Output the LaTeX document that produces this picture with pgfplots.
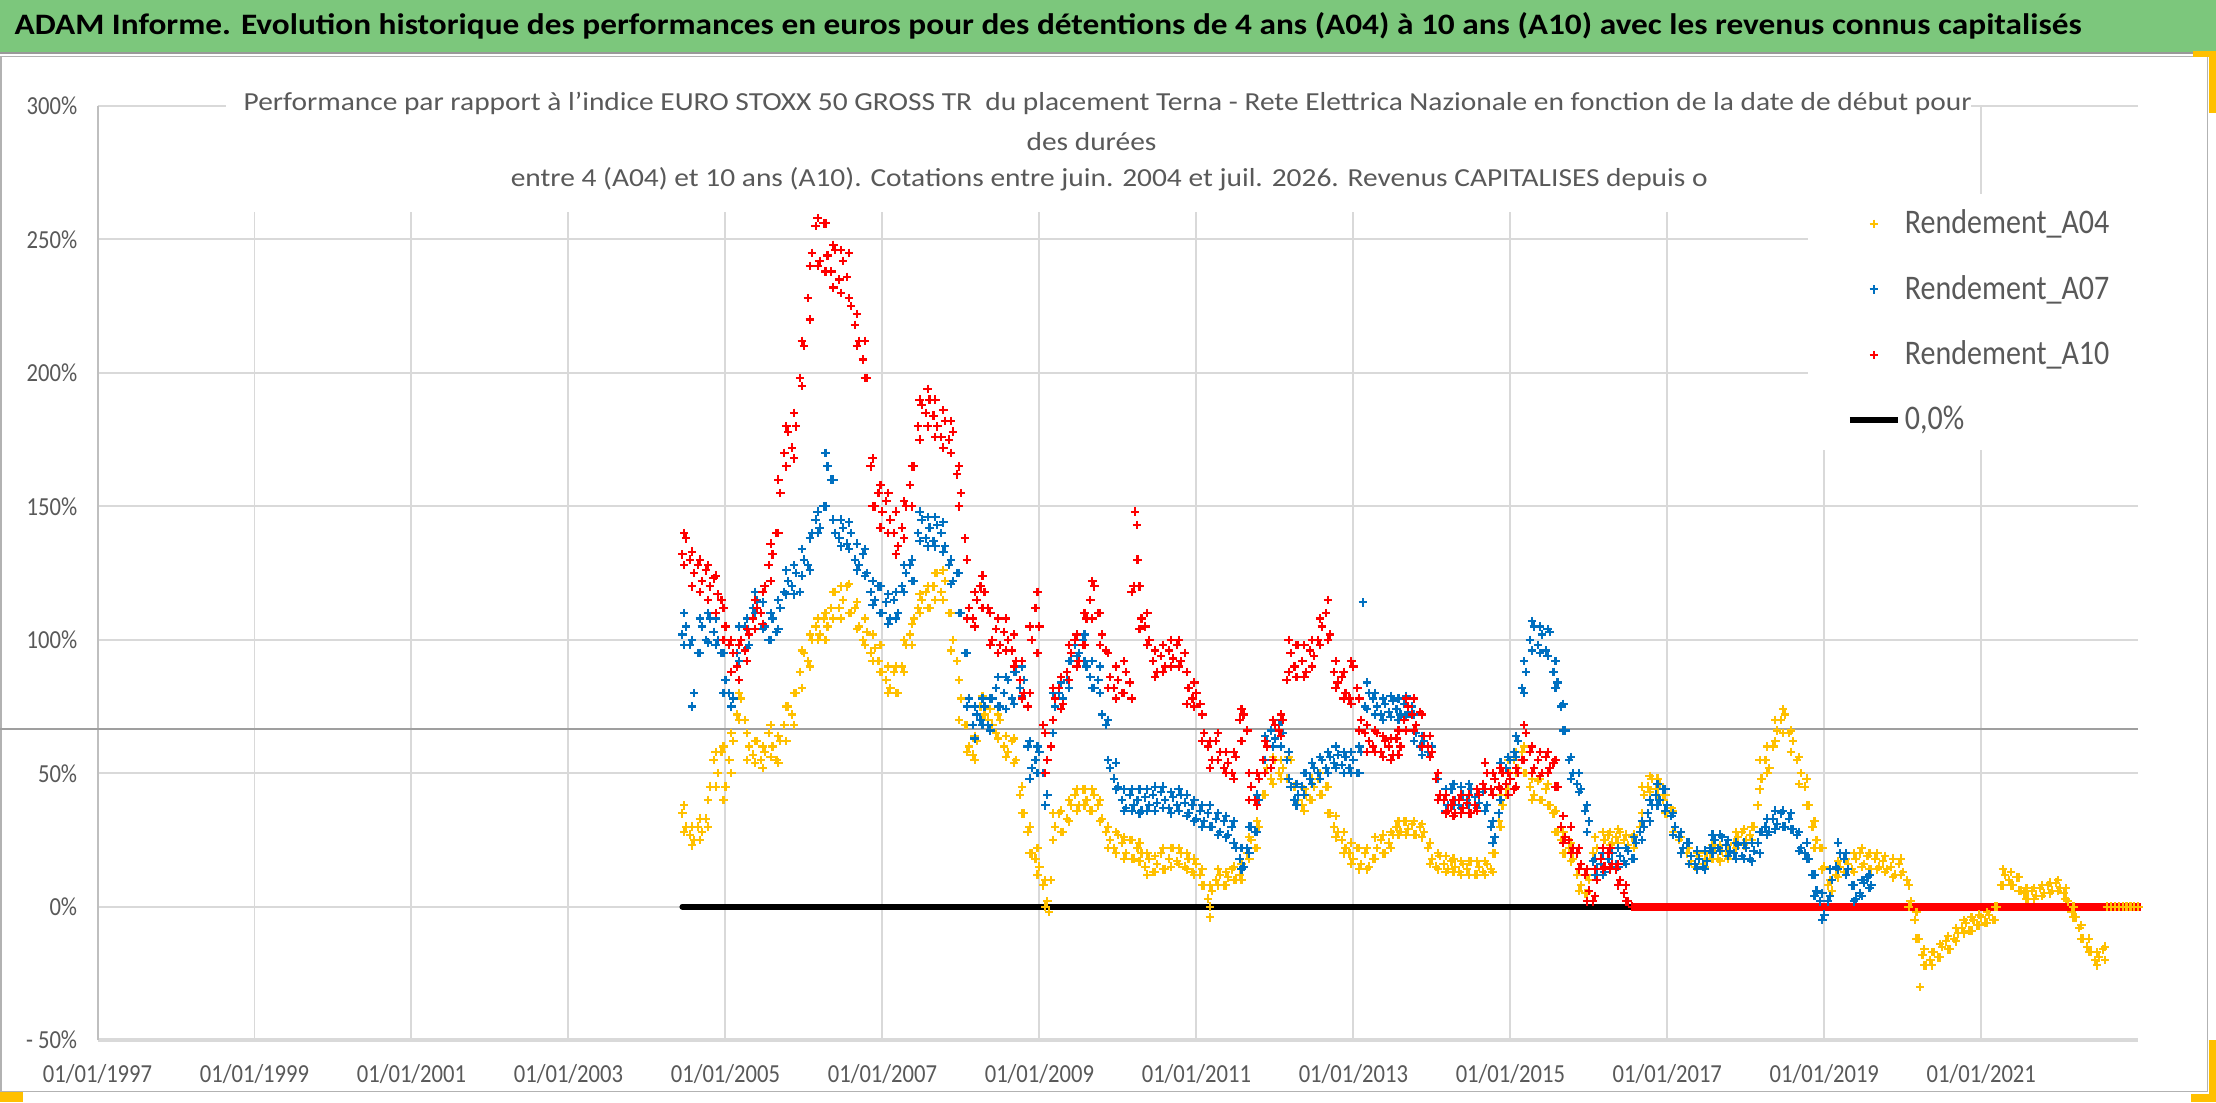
\documentclass[border=0pt]{standalone}
\usepackage{pgfplots}
\pgfplotsset{compat=1.18}
\usepackage{pgfplotstable}
\usepackage{fontspec}
\setmainfont[FakeStretch=0.87]{Carlito}
\definecolor{ttl}{RGB}{89,89,89}
\definecolor{grd}{RGB}{217,217,217}
\definecolor{grn}{RGB}{124,199,124}
\definecolor{yel}{RGB}{255,192,0}
\definecolor{blu}{RGB}{0,112,192}
\definecolor{rd}{RGB}{255,0,0}

\pgfplotstableread[row sep=\\]{x y\\
2004.45 35\\ 2004.50 30\\ 2004.55 27\\ 2004.60 25\\ 2004.65 30\\ 2004.70 28\\ 2004.75 33\\ 2004.80 45\\ 2004.85 55\\ 2004.90 50\\ 2004.95 58\\
2005.00 45\\ 2005.05 55\\ 2005.10 62\\ 2005.15 72\\ 2005.20 78\\ 2005.25 70\\ 2005.30 60\\ 2005.35 57\\ 2005.40 62\\ 2005.45 55\\ 2005.50 58\\ 2005.55 65\\ 2005.60 60\\ 2005.65 55\\ 2005.70 62\\ 2005.75 68\\ 2005.80 75\\ 2005.85 72\\ 2005.90 80\\ 2005.95 88\\
2006.00 95\\ 2006.05 92\\ 2006.10 100\\ 2006.15 105\\ 2006.20 102\\ 2006.25 108\\ 2006.30 105\\ 2006.35 112\\ 2006.40 118\\ 2006.45 112\\ 2006.50 115\\ 2006.55 120\\ 2006.60 110\\ 2006.65 112\\ 2006.70 105\\ 2006.75 100\\ 2006.80 103\\ 2006.85 95\\ 2006.90 97\\ 2006.95 92\\
2007.00 88\\ 2007.05 85\\ 2007.10 82\\ 2007.15 88\\ 2007.20 80\\ 2007.25 90\\ 2007.30 98\\ 2007.35 102\\ 2007.40 108\\ 2007.45 112\\ 2007.50 115\\ 2007.55 118\\ 2007.60 112\\ 2007.65 120\\ 2007.70 125\\ 2007.75 118\\ 2007.80 122\\ 2007.85 110\\ 2007.90 100\\ 2007.95 92\\
2008.00 78\\ 2008.05 68\\ 2008.10 60\\ 2008.15 57\\ 2008.20 62\\ 2008.25 75\\ 2008.30 72\\ 2008.35 70\\ 2008.40 68\\ 2008.45 65\\ 2008.50 70\\ 2008.55 60\\ 2008.60 58\\ 2008.65 62\\ 2008.70 55\\ 2008.75 42\\ 2008.80 35\\ 2008.85 28\\ 2008.90 20\\ 2008.95 18\\
2009.00 15\\ 2009.05 8\\ 2009.10 2\\ 2009.12 -2\\ 2009.15 10\\ 2009.20 30\\ 2009.25 35\\ 2009.30 28\\ 2009.35 33\\ 2009.40 38\\ 2009.45 42\\ 2009.50 38\\ 2009.55 44\\ 2009.60 40\\ 2009.65 36\\ 2009.70 42\\ 2009.75 38\\ 2009.80 33\\ 2009.85 28\\ 2009.90 25\\ 2009.95 22\\
2010.00 27\\ 2010.05 24\\ 2010.10 20\\ 2010.15 25\\ 2010.20 18\\ 2010.25 22\\ 2010.30 20\\ 2010.35 15\\ 2010.40 18\\ 2010.45 13\\ 2010.50 16\\ 2010.55 20\\ 2010.60 14\\ 2010.65 18\\ 2010.70 22\\ 2010.75 17\\ 2010.80 20\\ 2010.85 15\\ 2010.90 18\\ 2010.95 13\\
2011.00 16\\ 2011.05 12\\ 2011.10 8\\ 2011.15 3\\ 2011.17 -4\\ 2011.20 6\\ 2011.25 10\\ 2011.30 12\\ 2011.35 8\\ 2011.40 11\\ 2011.45 14\\ 2011.50 10\\ 2011.55 12\\ 2011.60 15\\ 2011.65 20\\ 2011.70 25\\ 2011.75 22\\ 2011.80 30\\ 2011.85 42\\ 2011.90 52\\ 2011.95 48\\
2012.00 55\\ 2012.05 50\\ 2012.10 52\\ 2012.15 48\\ 2012.20 55\\ 2012.25 45\\ 2012.30 40\\ 2012.35 38\\ 2012.40 42\\ 2012.45 40\\ 2012.50 45\\ 2012.55 48\\ 2012.60 42\\ 2012.65 45\\ 2012.70 35\\ 2012.75 30\\ 2012.80 28\\ 2012.85 25\\ 2012.90 22\\ 2012.95 20\\
2013.00 18\\ 2013.05 22\\ 2013.10 16\\ 2013.15 20\\ 2013.20 15\\ 2013.25 18\\ 2013.30 22\\ 2013.35 25\\ 2013.40 20\\ 2013.45 24\\ 2013.50 27\\ 2013.55 30\\ 2013.60 28\\ 2013.65 32\\ 2013.70 29\\ 2013.75 31\\ 2013.80 27\\ 2013.85 30\\ 2013.90 28\\ 2013.95 22\\
2014.00 18\\ 2014.05 15\\ 2014.10 19\\ 2014.15 16\\ 2014.20 14\\ 2014.25 17\\ 2014.30 15\\ 2014.35 13\\ 2014.40 16\\ 2014.45 14\\ 2014.50 17\\ 2014.55 12\\ 2014.60 15\\ 2014.65 13\\ 2014.70 16\\ 2014.75 14\\ 2014.80 20\\ 2014.85 32\\ 2014.90 38\\ 2014.95 42\\
2015.00 50\\ 2015.05 55\\ 2015.10 52\\ 2015.15 58\\ 2015.20 50\\ 2015.25 45\\ 2015.30 42\\ 2015.35 47\\ 2015.40 40\\ 2015.45 44\\ 2015.50 38\\ 2015.55 35\\ 2015.60 28\\ 2015.65 25\\ 2015.70 20\\ 2015.75 22\\ 2015.80 18\\ 2015.85 12\\ 2015.90 8\\ 2015.95 5\\
2016.00 10\\ 2016.05 20\\ 2016.10 22\\ 2016.15 18\\ 2016.20 25\\ 2016.25 27\\ 2016.30 24\\ 2016.35 26\\ 2016.40 28\\ 2016.45 25\\ 2016.50 23\\ 2016.55 26\\ 2016.60 24\\ 2016.65 30\\ 2016.70 42\\ 2016.75 45\\ 2016.80 48\\ 2016.85 44\\ 2016.90 46\\ 2016.95 40\\
2017.00 35\\ 2017.05 37\\ 2017.10 30\\ 2017.15 25\\ 2017.20 22\\ 2017.25 20\\ 2017.30 17\\ 2017.35 15\\ 2017.40 19\\ 2017.45 16\\ 2017.50 18\\ 2017.55 20\\ 2017.60 22\\ 2017.65 18\\ 2017.70 21\\ 2017.75 19\\ 2017.80 20\\ 2017.85 24\\ 2017.90 26\\ 2017.95 28\\
2018.00 25\\ 2018.05 27\\ 2018.10 30\\ 2018.15 38\\ 2018.20 48\\ 2018.25 55\\ 2018.30 52\\ 2018.35 60\\ 2018.40 66\\ 2018.45 70\\ 2018.50 72\\ 2018.55 65\\ 2018.60 62\\ 2018.65 55\\ 2018.70 50\\ 2018.75 45\\ 2018.80 38\\ 2018.85 30\\ 2018.90 25\\ 2018.95 22\\
2019.00 15\\ 2019.05 8\\ 2019.10 6\\ 2019.15 12\\ 2019.20 15\\ 2019.25 13\\ 2019.30 16\\ 2019.35 14\\ 2019.40 18\\ 2019.45 20\\ 2019.50 16\\ 2019.55 19\\ 2019.60 14\\ 2019.65 18\\ 2019.70 15\\ 2019.75 17\\ 2019.80 14\\ 2019.85 15\\ 2019.90 12\\ 2019.95 16\\
2020.00 13\\ 2020.05 10\\ 2020.10 2\\ 2020.15 -5\\ 2020.20 -12\\ 2020.22 -30\\ 2020.25 -18\\ 2020.30 -22\\ 2020.35 -20\\ 2020.40 -17\\ 2020.45 -19\\ 2020.50 -15\\ 2020.55 -13\\ 2020.60 -16\\ 2020.65 -12\\ 2020.70 -10\\ 2020.75 -8\\ 2020.80 -6\\ 2020.85 -9\\ 2020.90 -5\\ 2020.95 -7\\
2021.00 -4\\ 2021.05 -6\\ 2021.10 -3\\ 2021.15 -5\\ 2021.20 0\\ 2021.25 8\\ 2021.30 12\\ 2021.35 10\\ 2021.40 8\\ 2021.45 11\\ 2021.50 6\\ 2021.55 5\\ 2021.60 3\\ 2021.65 6\\ 2021.70 4\\ 2021.75 7\\ 2021.80 5\\ 2021.85 8\\ 2021.90 6\\ 2021.95 9\\
2022.00 7\\ 2022.05 5\\ 2022.10 2\\ 2022.15 -2\\ 2022.20 -4\\ 2022.25 -8\\ 2022.30 -12\\ 2022.35 -15\\ 2022.40 -17\\ 2022.45 -20\\ 2022.50 -19\\ 2022.55 -16\\ 2022.60 0\\ 2022.65 0\\ 2022.70 0\\ 2022.75 0\\ 2022.80 0\\ 2022.85 0\\ 2022.90 0\\ 2022.95 0\\ 2023.00 0\\
}\Afour

\pgfplotstableread[row sep=\\]{x lo hi\\
2004.475 28 38\\ 2004.575 23 30\\ 2004.675 25 33\\ 2004.775 30 40\\ 2004.875 45 58\\ 2004.975 40 60\\ 2005.075 50 65\\ 2005.175 70 80\\ 2005.275 55 65\\ 2005.375 54 62\\
2005.475 52 60\\ 2005.575 56 68\\ 2005.675 54 64\\ 2005.775 62 75\\ 2005.875 68 80\\ 2005.975 82 96\\ 2006.075 90 102\\ 2006.175 100 108\\ 2006.275 100 110\\ 2006.375 108 118\\
2006.475 108 120\\ 2006.575 110 121\\ 2006.675 104 114\\ 2006.775 98 108\\ 2006.875 92 102\\ 2006.975 88 98\\ 2007.075 80 90\\ 2007.175 80 90\\ 2007.275 88 100\\ 2007.375 98 106\\
2007.475 110 117\\ 2007.575 112 120\\ 2007.675 115 125\\ 2007.775 115 126\\ 2007.875 96 110\\ 2007.975 70 85\\ 2008.075 58 68\\ 2008.175 55 64\\ 2008.275 70 79\\ 2008.375 66 74\\
2008.475 63 72\\ 2008.575 56 64\\ 2008.675 54 63\\ 2008.775 35 45\\ 2008.875 20 30\\ 2008.975 12 22\\ 2009.075 0 10\\ 2009.175 25 35\\ 2009.275 28 36\\ 2009.375 32 40\\
2009.475 36 44\\ 2009.575 38 44\\ 2009.675 36 44\\ 2009.775 32 40\\ 2009.875 22 30\\ 2009.975 20 28\\ 2010.075 18 26\\ 2010.175 18 25\\ 2010.275 17 24\\ 2010.375 12 20\\
2010.475 13 19\\ 2010.575 14 22\\ 2010.675 15 22\\ 2010.775 16 22\\ 2010.875 14 20\\ 2010.975 12 18\\ 2011.075 8 14\\ 2011.175 0 8\\ 2011.275 8 14\\ 2011.375 8 13\\
2011.475 10 15\\ 2011.575 10 16\\ 2011.675 18 26\\ 2011.775 22 32\\ 2011.875 42 55\\ 2011.975 46 56\\ 2012.075 48 55\\ 2012.175 48 56\\ 2012.275 38 46\\ 2012.375 36 44\\
2012.475 40 48\\ 2012.575 42 50\\ 2012.675 35 45\\ 2012.775 26 34\\ 2012.875 20 28\\ 2012.975 16 24\\ 2013.075 14 22\\ 2013.175 14 22\\ 2013.275 18 26\\ 2013.375 20 27\\
2013.475 22 28\\ 2013.575 27 32\\ 2013.675 27 32\\ 2013.775 27 32\\ 2013.875 26 31\\ 2013.975 16 24\\ 2014.075 14 20\\ 2014.175 13 19\\ 2014.275 13 18\\ 2014.375 12 17\\
2014.475 12 17\\ 2014.575 12 17\\ 2014.675 12 17\\ 2014.775 13 20\\ 2014.875 30 42\\ 2014.975 44 55\\ 2015.075 50 58\\ 2015.175 50 60\\ 2015.275 40 48\\ 2015.375 40 48\\
2015.475 38 46\\ 2015.575 28 36\\ 2015.675 20 28\\ 2015.775 17 24\\ 2015.875 6 14\\ 2015.975 5 12\\ 2016.075 18 26\\ 2016.175 20 28\\ 2016.275 23 28\\ 2016.375 24 29\\
2016.475 22 27\\ 2016.575 22 27\\ 2016.675 35 45\\ 2016.775 43 49\\ 2016.875 42 48\\ 2016.975 35 42\\ 2017.075 28 36\\ 2017.175 20 26\\ 2017.275 16 22\\ 2017.375 14 20\\
2017.475 15 20\\ 2017.575 18 23\\ 2017.675 17 23\\ 2017.775 18 23\\ 2017.875 22 28\\ 2017.975 23 29\\ 2018.075 25 30\\ 2018.175 44 55\\ 2018.275 50 60\\ 2018.375 62 70\\
2018.475 65 74\\ 2018.575 58 66\\ 2018.675 46 56\\ 2018.775 38 48\\ 2018.875 22 32\\ 2018.975 14 22\\ 2019.075 4 10\\ 2019.175 11 17\\ 2019.275 12 18\\ 2019.375 13 20\\
2019.475 15 22\\ 2019.575 14 20\\ 2019.675 14 20\\ 2019.775 13 19\\ 2019.875 11 18\\ 2019.975 12 18\\ 2020.075 0 8\\ 2020.175 -12 -2\\ 2020.275 -22 -16\\ 2020.375 -22 -17\\
2020.475 -19 -14\\ 2020.575 -16 -11\\ 2020.675 -13 -8\\ 2020.775 -10 -5\\ 2020.875 -9 -4\\ 2020.975 -7 -3\\ 2021.075 -6 -2\\ 2021.175 -5 0\\ 2021.275 8 14\\ 2021.375 8 13\\
2021.475 6 11\\ 2021.575 3 7\\ 2021.675 3 7\\ 2021.775 4 8\\ 2021.875 5 9\\ 2021.975 6 10\\ 2022.075 3 7\\ 2022.175 -4 0\\ 2022.275 -12 -7\\ 2022.375 -17 -12\\
2022.475 -22 -17\\ 2022.575 -20 -15\\
}\Afourenv

\pgfplotstableread[row sep=\\]{x y\\
2004.45 102\\ 2004.50 105\\ 2004.55 98\\ 2004.60 80\\ 2004.65 95\\ 2004.70 105\\ 2004.75 100\\ 2004.80 108\\ 2004.85 103\\ 2004.90 100\\ 2004.95 95\\
2005.00 85\\ 2005.05 80\\ 2005.10 78\\ 2005.15 95\\ 2005.20 100\\ 2005.25 105\\ 2005.30 98\\ 2005.35 112\\ 2005.40 115\\ 2005.45 110\\ 2005.50 105\\ 2005.55 100\\ 2005.60 108\\ 2005.65 103\\ 2005.70 112\\ 2005.75 118\\ 2005.80 122\\ 2005.85 120\\ 2005.90 125\\ 2005.95 118\\
2006.00 130\\ 2006.05 128\\ 2006.10 140\\ 2006.15 145\\ 2006.20 142\\ 2006.25 150\\ 2006.30 165\\ 2006.35 160\\ 2006.40 140\\ 2006.45 138\\ 2006.50 142\\ 2006.55 136\\ 2006.60 140\\ 2006.65 130\\ 2006.70 128\\ 2006.75 132\\ 2006.80 125\\ 2006.85 118\\ 2006.90 115\\ 2006.95 120\\
2007.00 110\\ 2007.05 114\\ 2007.10 108\\ 2007.15 115\\ 2007.20 110\\ 2007.25 120\\ 2007.30 125\\ 2007.35 128\\ 2007.40 122\\ 2007.45 140\\ 2007.50 145\\ 2007.55 138\\ 2007.60 142\\ 2007.65 137\\ 2007.70 143\\ 2007.75 140\\ 2007.80 135\\ 2007.85 128\\ 2007.90 122\\ 2007.95 125\\
2008.00 110\\ 2008.05 95\\ 2008.10 78\\ 2008.15 68\\ 2008.20 72\\ 2008.25 70\\ 2008.30 75\\ 2008.35 68\\ 2008.40 78\\ 2008.45 82\\ 2008.50 75\\ 2008.55 80\\ 2008.60 85\\ 2008.65 78\\ 2008.70 88\\ 2008.75 82\\ 2008.80 85\\ 2008.85 60\\ 2008.90 52\\ 2008.95 55\\
2009.00 58\\ 2009.05 50\\ 2009.10 42\\ 2009.15 60\\ 2009.20 75\\ 2009.25 80\\ 2009.30 78\\ 2009.35 85\\ 2009.40 92\\ 2009.45 98\\ 2009.50 95\\ 2009.55 100\\ 2009.60 90\\ 2009.65 86\\ 2009.70 82\\ 2009.75 85\\ 2009.80 72\\ 2009.85 68\\ 2009.90 52\\ 2009.95 48\\
2010.00 45\\ 2010.05 40\\ 2010.10 37\\ 2010.15 42\\ 2010.20 38\\ 2010.25 40\\ 2010.30 36\\ 2010.35 41\\ 2010.40 38\\ 2010.45 42\\ 2010.50 39\\ 2010.55 43\\ 2010.60 40\\ 2010.65 37\\ 2010.70 41\\ 2010.75 38\\ 2010.80 42\\ 2010.85 39\\ 2010.90 35\\ 2010.95 38\\
2011.00 33\\ 2011.05 36\\ 2011.10 32\\ 2011.15 35\\ 2011.20 30\\ 2011.25 33\\ 2011.30 28\\ 2011.35 32\\ 2011.40 27\\ 2011.45 30\\ 2011.50 22\\ 2011.55 18\\ 2011.60 15\\ 2011.65 22\\ 2011.70 30\\ 2011.75 28\\ 2011.80 40\\ 2011.85 55\\ 2011.90 62\\ 2011.95 66\\
2012.00 63\\ 2012.05 68\\ 2012.10 65\\ 2012.15 55\\ 2012.20 45\\ 2012.25 40\\ 2012.30 42\\ 2012.35 45\\ 2012.40 50\\ 2012.45 48\\ 2012.50 52\\ 2012.55 50\\ 2012.60 55\\ 2012.65 52\\ 2012.70 56\\ 2012.75 54\\ 2012.80 57\\ 2012.85 53\\ 2012.90 56\\ 2012.95 52\\
2013.00 55\\ 2013.05 50\\ 2013.10 58\\ 2013.12 114\\ 2013.15 75\\ 2013.20 80\\ 2013.25 78\\ 2013.30 75\\ 2013.35 72\\ 2013.40 76\\ 2013.45 73\\ 2013.50 77\\ 2013.55 74\\ 2013.60 72\\ 2013.65 76\\ 2013.70 73\\ 2013.75 75\\ 2013.80 65\\ 2013.85 60\\ 2013.90 62\\ 2013.95 58\\
2014.00 60\\ 2014.05 48\\ 2014.10 42\\ 2014.15 40\\ 2014.20 38\\ 2014.25 44\\ 2014.30 40\\ 2014.35 38\\ 2014.40 42\\ 2014.45 40\\ 2014.50 44\\ 2014.55 41\\ 2014.60 39\\ 2014.65 43\\ 2014.70 38\\ 2014.75 30\\ 2014.80 26\\ 2014.85 35\\ 2014.90 50\\ 2014.95 52\\
2015.00 55\\ 2015.05 58\\ 2015.10 62\\ 2015.15 82\\ 2015.20 88\\ 2015.25 100\\ 2015.30 105\\ 2015.35 98\\ 2015.40 102\\ 2015.45 96\\ 2015.50 103\\ 2015.55 88\\ 2015.60 84\\ 2015.65 75\\ 2015.70 66\\ 2015.75 55\\ 2015.80 50\\ 2015.85 46\\ 2015.90 44\\ 2015.95 36\\
2016.00 32\\ 2016.05 17\\ 2016.10 14\\ 2016.15 16\\ 2016.20 13\\ 2016.25 18\\ 2016.30 20\\ 2016.35 16\\ 2016.40 19\\ 2016.45 17\\ 2016.50 21\\ 2016.55 18\\ 2016.60 24\\ 2016.65 28\\ 2016.70 30\\ 2016.75 35\\ 2016.80 38\\ 2016.85 42\\ 2016.90 40\\ 2016.95 44\\
2017.00 38\\ 2017.05 34\\ 2017.10 30\\ 2017.15 26\\ 2017.20 22\\ 2017.25 24\\ 2017.30 19\\ 2017.35 16\\ 2017.40 18\\ 2017.45 15\\ 2017.50 17\\ 2017.55 22\\ 2017.60 25\\ 2017.65 22\\ 2017.70 26\\ 2017.75 23\\ 2017.80 21\\ 2017.85 20\\ 2017.90 23\\ 2017.95 19\\
2018.00 22\\ 2018.05 18\\ 2018.10 21\\ 2018.15 24\\ 2018.20 28\\ 2018.25 30\\ 2018.30 28\\ 2018.35 33\\ 2018.40 31\\ 2018.45 35\\ 2018.50 30\\ 2018.55 33\\ 2018.60 29\\ 2018.65 27\\ 2018.70 22\\ 2018.75 20\\ 2018.80 18\\ 2018.85 12\\ 2018.90 6\\ 2018.95 2\\
2019.00 -3\\ 2019.05 2\\ 2019.10 10\\ 2019.15 15\\ 2019.20 20\\ 2019.25 18\\ 2019.30 14\\ 2019.35 8\\ 2019.40 3\\ 2019.45 5\\ 2019.50 9\\ 2019.55 11\\ 2019.60 8\\
}\Aseven

\pgfplotstableread[row sep=\\]{x lo hi\\
2004.475 98 110\\ 2004.575 75 100\\ 2004.675 95 108\\ 2004.775 99 110\\ 2004.875 98 108\\ 2004.975 80 95\\ 2005.075 75 88\\ 2005.175 92 105\\ 2005.275 97 108\\ 2005.375 110 118\\
2005.475 104 114\\ 2005.575 100 110\\ 2005.675 104 115\\ 2005.775 117 126\\ 2005.875 117 128\\ 2005.975 124 134\\ 2006.075 126 138\\ 2006.175 140 148\\ 2006.275 150 170\\ 2006.375 145 160\\
2006.475 135 145\\ 2006.575 134 144\\ 2006.675 126 136\\ 2006.775 124 134\\ 2006.875 113 122\\ 2006.975 110 120\\ 2007.075 106 117\\ 2007.175 108 118\\ 2007.275 118 128\\ 2007.375 122 130\\
2007.475 137 148\\ 2007.575 135 146\\ 2007.675 135 146\\ 2007.775 133 144\\ 2007.875 121 130\\ 2007.975 110 125\\ 2008.075 75 95\\ 2008.175 63 75\\ 2008.275 68 78\\ 2008.375 66 78\\
2008.475 75 86\\ 2008.575 74 86\\ 2008.675 76 88\\ 2008.775 79 90\\ 2008.875 48 62\\ 2008.975 50 60\\ 2009.075 38 50\\ 2009.175 65 80\\ 2009.275 74 84\\ 2009.375 82 92\\
2009.475 94 102\\ 2009.575 92 102\\ 2009.675 82 92\\ 2009.775 80 90\\ 2009.875 55 70\\ 2009.975 44 54\\ 2010.075 36 44\\ 2010.175 36 44\\ 2010.275 35 44\\ 2010.375 36 44\\
2010.475 36 45\\ 2010.575 37 45\\ 2010.675 35 43\\ 2010.775 36 44\\ 2010.875 34 42\\ 2010.975 32 40\\ 2011.075 30 38\\ 2011.175 30 38\\ 2011.275 27 35\\ 2011.375 26 34\\
2011.475 24 32\\ 2011.575 14 22\\ 2011.675 20 30\\ 2011.775 28 42\\ 2011.875 55 64\\ 2011.975 60 70\\ 2012.075 60 70\\ 2012.175 48 58\\ 2012.275 38 46\\ 2012.375 42 50\\
2012.475 46 54\\ 2012.575 48 56\\ 2012.675 50 58\\ 2012.775 52 60\\ 2012.875 50 58\\ 2012.975 50 58\\ 2013.075 50 60\\ 2013.175 74 84\\ 2013.275 72 80\\ 2013.375 70 78\\
2013.475 71 79\\ 2013.575 70 78\\ 2013.675 71 79\\ 2013.775 62 72\\ 2013.875 57 64\\ 2013.975 56 64\\ 2014.075 40 48\\ 2014.175 36 44\\ 2014.275 38 46\\ 2014.375 37 45\\
2014.475 38 46\\ 2014.575 37 44\\ 2014.675 36 44\\ 2014.775 24 32\\ 2014.875 40 54\\ 2014.975 50 56\\ 2015.075 56 64\\ 2015.175 80 92\\ 2015.275 96 107\\ 2015.375 95 105\\
2015.475 94 104\\ 2015.575 82 92\\ 2015.675 66 76\\ 2015.775 48 56\\ 2015.875 43 50\\ 2015.975 28 38\\ 2016.075 12 18\\ 2016.175 12 20\\ 2016.275 15 22\\ 2016.375 15 22\\
2016.475 16 22\\ 2016.575 18 26\\ 2016.675 25 32\\ 2016.775 32 40\\ 2016.875 38 46\\ 2016.975 36 44\\ 2017.075 27 35\\ 2017.175 20 28\\ 2017.275 16 24\\ 2017.375 14 21\\
2017.475 14 21\\ 2017.575 20 27\\ 2017.675 21 27\\ 2017.775 19 25\\ 2017.875 18 24\\ 2017.975 18 24\\ 2018.075 17 24\\ 2018.175 20 28\\ 2018.275 27 33\\ 2018.375 29 36\\
2018.475 30 36\\ 2018.575 29 35\\ 2018.675 21 28\\ 2018.775 18 24\\ 2018.875 4 12\\ 2018.975 -5 5\\ 2019.075 4 14\\ 2019.175 14 24\\ 2019.275 12 20\\ 2019.375 2 8\\
2019.475 4 10\\ 2019.575 7 12\\
}\Asevenenv

\pgfplotstableread[row sep=\\]{x y\\
2004.45 132\\ 2004.50 138\\ 2004.55 130\\ 2004.60 125\\ 2004.65 128\\ 2004.70 122\\ 2004.75 126\\ 2004.80 120\\ 2004.85 123\\ 2004.90 117\\ 2004.95 115\\
2005.00 105\\ 2005.05 98\\ 2005.10 95\\ 2005.15 90\\ 2005.20 100\\ 2005.25 96\\ 2005.30 102\\ 2005.35 108\\ 2005.40 112\\ 2005.45 110\\ 2005.50 120\\ 2005.55 128\\ 2005.60 132\\ 2005.65 140\\ 2005.70 155\\ 2005.75 170\\ 2005.80 178\\ 2005.85 172\\ 2005.90 180\\ 2005.95 198\\
2006.00 210\\ 2006.05 228\\ 2006.10 245\\ 2006.15 255\\ 2006.20 242\\ 2006.25 256\\ 2006.30 244\\ 2006.35 238\\ 2006.40 246\\ 2006.45 235\\ 2006.50 242\\ 2006.55 236\\ 2006.60 225\\ 2006.65 218\\ 2006.70 212\\ 2006.75 205\\ 2006.80 198\\ 2006.85 165\\ 2006.90 150\\ 2006.95 155\\
2007.00 148\\ 2007.05 152\\ 2007.10 145\\ 2007.15 140\\ 2007.20 135\\ 2007.25 142\\ 2007.30 150\\ 2007.35 158\\ 2007.40 165\\ 2007.45 180\\ 2007.50 188\\ 2007.55 185\\ 2007.60 190\\ 2007.65 184\\ 2007.70 180\\ 2007.75 176\\ 2007.80 182\\ 2007.85 175\\ 2007.90 178\\ 2007.95 162\\
2008.00 155\\ 2008.05 138\\ 2008.10 112\\ 2008.15 108\\ 2008.20 115\\ 2008.25 120\\ 2008.30 118\\ 2008.35 112\\ 2008.40 100\\ 2008.45 104\\ 2008.50 98\\ 2008.55 103\\ 2008.60 100\\ 2008.65 96\\ 2008.70 92\\ 2008.75 85\\ 2008.80 80\\ 2008.85 75\\ 2008.90 100\\ 2008.95 112\\
2009.00 105\\ 2009.05 68\\ 2009.10 55\\ 2009.15 60\\ 2009.20 78\\ 2009.25 82\\ 2009.30 76\\ 2009.35 88\\ 2009.40 95\\ 2009.45 100\\ 2009.50 92\\ 2009.55 98\\ 2009.60 108\\ 2009.65 115\\ 2009.70 120\\ 2009.75 110\\ 2009.80 102\\ 2009.85 96\\ 2009.90 86\\ 2009.95 82\\
2010.00 85\\ 2010.05 80\\ 2010.10 88\\ 2010.15 84\\ 2010.20 120\\ 2010.22 148\\ 2010.24 143\\ 2010.25 130\\ 2010.30 108\\ 2010.35 105\\ 2010.40 100\\ 2010.45 92\\ 2010.50 88\\ 2010.55 94\\ 2010.60 90\\ 2010.65 96\\ 2010.70 93\\ 2010.75 98\\ 2010.80 92\\ 2010.85 95\\ 2010.90 82\\ 2010.95 78\\
2011.00 80\\ 2011.05 76\\ 2011.10 65\\ 2011.15 60\\ 2011.20 55\\ 2011.25 62\\ 2011.30 58\\ 2011.35 52\\ 2011.40 54\\ 2011.45 50\\ 2011.50 56\\ 2011.55 70\\ 2011.60 72\\ 2011.65 66\\ 2011.70 45\\ 2011.75 40\\ 2011.80 48\\ 2011.85 55\\ 2011.90 60\\ 2011.95 52\\
2012.00 68\\ 2012.05 66\\ 2012.10 70\\ 2012.15 85\\ 2012.20 95\\ 2012.25 90\\ 2012.30 98\\ 2012.35 92\\ 2012.40 88\\ 2012.45 96\\ 2012.50 94\\ 2012.55 100\\ 2012.60 105\\ 2012.65 110\\ 2012.70 102\\ 2012.75 88\\ 2012.80 84\\ 2012.85 86\\ 2012.90 80\\ 2012.95 78\\
2013.00 90\\ 2013.05 82\\ 2013.10 70\\ 2013.15 65\\ 2013.20 62\\ 2013.25 60\\ 2013.30 65\\ 2013.35 58\\ 2013.40 62\\ 2013.45 60\\ 2013.50 57\\ 2013.55 63\\ 2013.60 60\\ 2013.65 70\\ 2013.70 75\\ 2013.75 72\\ 2013.80 68\\ 2013.85 73\\ 2013.90 64\\ 2013.95 60\\
2014.00 58\\ 2014.05 48\\ 2014.10 42\\ 2014.15 40\\ 2014.20 36\\ 2014.25 38\\ 2014.30 35\\ 2014.35 40\\ 2014.40 37\\ 2014.45 39\\ 2014.50 35\\ 2014.55 38\\ 2014.60 42\\ 2014.65 46\\ 2014.70 50\\ 2014.75 44\\ 2014.80 48\\ 2014.85 45\\ 2014.90 50\\ 2014.95 46\\
2015.00 48\\ 2015.05 44\\ 2015.10 50\\ 2015.15 55\\ 2015.20 65\\ 2015.25 58\\ 2015.30 52\\ 2015.35 55\\ 2015.40 50\\ 2015.45 56\\ 2015.50 52\\ 2015.55 54\\ 2015.60 45\\ 2015.65 30\\ 2015.70 26\\ 2015.75 25\\ 2015.80 22\\ 2015.85 20\\ 2015.90 16\\ 2015.95 12\\
2016.00 6\\ 2016.05 2\\ 2016.10 10\\ 2016.15 18\\ 2016.20 15\\ 2016.25 20\\ 2016.30 16\\ 2016.35 14\\ 2016.40 10\\ 2016.45 5\\ 2016.50 2\\ 2016.55 0\\
}\Aten

\pgfplotstableread[row sep=\\]{x lo hi\\
2004.475 128 140\\ 2004.575 120 133\\ 2004.675 118 130\\ 2004.775 115 128\\ 2004.875 110 124\\ 2004.975 100 112\\ 2005.075 88 100\\ 2005.175 85 98\\ 2005.275 92 104\\ 2005.375 104 115\\
2005.475 106 118\\ 2005.575 122 136\\ 2005.675 140 160\\ 2005.775 165 180\\ 2005.875 168 185\\ 2005.975 195 212\\ 2006.075 220 240\\ 2006.175 240 258\\ 2006.275 238 256\\ 2006.375 232 248\\
2006.475 230 246\\ 2006.575 228 245\\ 2006.675 210 222\\ 2006.775 198 212\\ 2006.875 150 168\\ 2006.975 142 158\\ 2007.075 140 155\\ 2007.175 132 148\\ 2007.275 138 152\\ 2007.375 150 165\\
2007.475 175 190\\ 2007.575 180 194\\ 2007.675 176 190\\ 2007.775 172 186\\ 2007.875 170 182\\ 2007.975 150 165\\ 2008.075 108 130\\ 2008.175 105 118\\ 2008.275 112 124\\ 2008.375 98 110\\
2008.475 95 108\\ 2008.575 96 108\\ 2008.675 90 102\\ 2008.775 78 92\\ 2008.875 80 105\\ 2008.975 95 118\\ 2009.075 50 65\\ 2009.175 70 82\\ 2009.275 74 86\\ 2009.375 85 98\\
2009.475 90 102\\ 2009.575 98 110\\ 2009.675 108 122\\ 2009.775 98 110\\ 2009.875 82 95\\ 2009.975 78 90\\ 2010.075 80 92\\ 2010.175 78 118\\ 2010.275 104 120\\ 2010.375 98 110\\
2010.475 86 96\\ 2010.575 88 98\\ 2010.675 90 100\\ 2010.775 90 100\\ 2010.875 76 88\\ 2010.975 75 84\\ 2011.075 62 72\\ 2011.175 52 62\\ 2011.275 55 65\\ 2011.375 50 58\\
2011.475 48 58\\ 2011.575 62 74\\ 2011.675 40 50\\ 2011.775 38 50\\ 2011.875 50 62\\ 2011.975 55 70\\ 2012.075 64 72\\ 2012.175 88 100\\ 2012.275 86 98\\ 2012.375 86 98\\
2012.475 90 100\\ 2012.575 98 108\\ 2012.675 100 115\\ 2012.775 82 92\\ 2012.875 78 88\\ 2012.975 76 92\\ 2013.075 66 78\\ 2013.175 58 68\\ 2013.275 58 66\\ 2013.375 56 64\\
2013.475 55 63\\ 2013.575 57 66\\ 2013.675 66 78\\ 2013.775 66 78\\ 2013.875 60 72\\ 2013.975 56 64\\ 2014.075 40 50\\ 2014.175 35 42\\ 2014.275 34 40\\ 2014.375 35 42\\
2014.475 35 42\\ 2014.575 36 44\\ 2014.675 44 54\\ 2014.775 42 50\\ 2014.875 44 52\\ 2014.975 42 50\\ 2015.075 45 52\\ 2015.175 55 68\\ 2015.275 50 60\\ 2015.375 49 58\\
2015.475 50 58\\ 2015.575 45 55\\ 2015.675 24 34\\ 2015.775 20 30\\ 2015.875 14 22\\ 2015.975 2 14\\ 2016.075 4 14\\ 2016.175 14 22\\ 2016.275 14 22\\ 2016.375 8 16\\
2016.475 2 8\\
}\Atenenv

\begin{document}
\begin{tikzpicture}
\useasboundingbox (0,0) rectangle (784pt,390pt);
\fill[white] (0,0) rectangle (784pt,390pt);
\draw[gray!60, line width=0.6pt] (0.4pt,3.8pt) rectangle (781pt,370pt);
\fill[grn] (0,371.5pt) rectangle (784pt,390pt);
\draw[gray!80,line width=0.8pt] (0,371.3pt) -- (784pt,371.3pt);
\fill[yel] (0,0) rectangle (8pt,3.5pt);
\fill[yel] (776pt,370pt) rectangle (784pt,372pt);
\fill[yel] (781.5pt,350pt) rectangle (784pt,372pt);
\fill[yel] (781.5pt,0pt) rectangle (784pt,22pt);
\fill[yel] (775pt,0pt) rectangle (784pt,3pt);
\node[font=\bfseries\fontsize{10.5pt}{12pt}\selectfont, text=black, inner sep=0pt, anchor=west] at (5pt,381pt) {\scalebox{1.29}[1]{ADAM Informe. Evolution historique des performances en euros pour des détentions de 4 ans (A04) à 10 ans (A10) avec les revenus connus capitalisés}};
\begin{axis}[
  at={(34.5pt,22pt)}, anchor=south west,
  scale only axis, width=722pt, height=330.5pt,
  xmin=1997, xmax=2023, ymin=-50, ymax=300,
  clip=false,
  axis x line*=bottom, axis y line*=left,
  x axis line style={-, grd, line width=1.3pt},
  y axis line style={-, gray!50, line width=0.7pt},
  xtick={1997,1999,2001,2003,2005,2007,2009,2011,2013,2015,2017,2019,2021},
  xticklabels={01/01/1997,01/01/1999,01/01/2001,01/01/2003,01/01/2005,01/01/2007,01/01/2009,01/01/2011,01/01/2013,01/01/2015,01/01/2017,01/01/2019,01/01/2021},
  ytick={-50,0,50,100,150,200,250,300},
  yticklabels={- 50\%,0\%,50\%,100\%,150\%,200\%,250\%,300\%},
  major tick length=0pt,
  grid=major, major grid style={grd, line width=0.7pt},
  tick label style={font=\fontsize{9.2pt}{10pt}\selectfont, text=ttl},
  /pgf/number format/assume math mode=true,
  yticklabel style={anchor=east, inner sep=0pt, xshift=-7pt},
  xticklabel style={anchor=north, inner sep=0pt, yshift=-8.5pt},
  legend image code/.code={\draw[mark repeat=2,mark phase=2,#1] plot coordinates {(0pt,0pt) (8.5pt,0pt) (17pt,0pt)};},
  legend style={at={(0.857,0.894)}, anchor=north west, draw=none, fill=none, inner sep=0pt,
    font=\fontsize{12.2pt}{14pt}\selectfont, text=ttl, row sep=10.2pt,
    nodes={inner sep=1.5pt}},
  legend cell align=left,
  mk/.style={only marks, mark=+, mark size=1.5pt, mark options={line width=0.75pt}},
]
\draw[gray!75, line width=0.7pt] (axis cs:1995.76,66.7) -- (axis cs:2023,66.7);
\fill[white] (axis cs:1998.64,260.2) rectangle (axis cs:2020.87,308);
\fill[white] (axis cs:2018.79,171) rectangle (axis cs:2023.05,267);
\addplot[black, line width=2pt, line cap=round, forget plot] coordinates {(2004.45,0) (2023,0)};
\addplot[mk, yel, forget plot] table[x=x, y=lo] {\Afourenv};
\addplot[mk, yel, forget plot] table[x=x, y=hi] {\Afourenv};
\addplot[mk, yel] table {\Afour};
\addlegendentry{Rendement\_A04}
\addplot[mk, blu, forget plot] table[x=x, y=lo] {\Asevenenv};
\addplot[mk, blu, forget plot] table[x=x, y=hi] {\Asevenenv};
\addplot[mk, blu] table {\Aseven};
\addlegendentry{Rendement\_A07}
\addplot[mk, rd, forget plot] table[x=x, y=lo] {\Atenenv};
\addplot[mk, rd, forget plot] table[x=x, y=hi] {\Atenenv};
\addplot[mk, rd] table {\Aten};
\addlegendentry{Rendement\_A10}
\addplot[rd, line width=2.9pt, forget plot] coordinates {(2016.55,0) (2023.03,0)};
\addlegendimage{black, line width=2pt}
\addlegendentry{0,0\%}
\end{axis}
\node[font=\fontsize{9.2pt}{13.5pt}\selectfont, text=ttl, inner sep=0pt, anchor=west] at (86pt,353.5pt) {\scalebox{1.30}[1]{Performance par rapport à l'indice EURO STOXX 50 GROSS TR\ \ du placement Terna - Rete Elettrica Nazionale en fonction de la date de début pour}};
\node[font=\fontsize{9.2pt}{13.5pt}\selectfont, text=ttl, inner sep=0pt, anchor=west] at (363pt,340pt) {\scalebox{1.30}[1]{des durées}};
\node[font=\fontsize{9.2pt}{13.5pt}\selectfont, text=ttl, inner sep=0pt, anchor=west] at (180.5pt,326.5pt) {\scalebox{1.30}[1]{entre 4 (A04) et 10 ans (A10). Cotations entre juin. 2004 et juil. 2026. Revenus CAPITALISES depuis o}};
\end{tikzpicture}
\end{document}
